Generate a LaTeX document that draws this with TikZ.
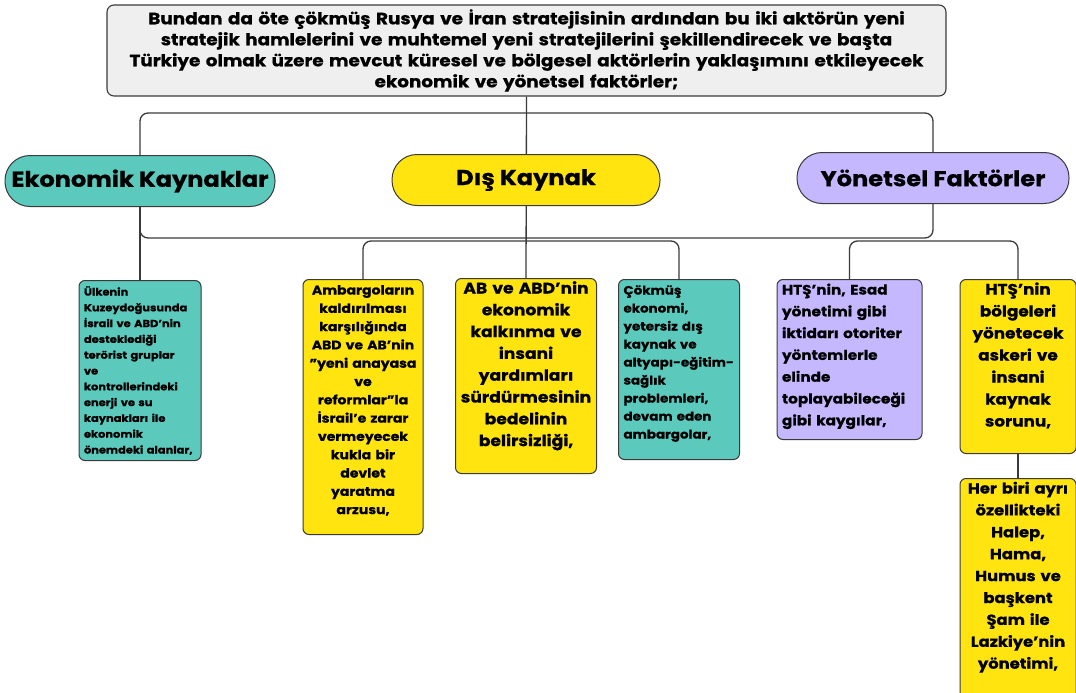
\documentclass[tikz,border=0pt]{standalone}
\usepackage{fontspec}
\setmainfont{Poppins}[FakeStretch=1.12, BoldFeatures={FakeBold=0.8}]
\usetikzlibrary{positioning,backgrounds}
\definecolor{ekoteal}{HTML}{5CC9BD}
\definecolor{disyellow}{HTML}{FFE40F}
\definecolor{yonlilac}{HTML}{C5B8FF}
\definecolor{topgrey}{HTML}{EFEFEF}
\definecolor{linegrey}{HTML}{3A3A3A}
\def\fs#1#2{\fontsize{#1}{#2}\selectfont\bfseries}

\begin{document}
\begin{tikzpicture}[x=1pt,y=-1pt,
    link/.style={draw=linegrey, line width=1.3pt, rounded corners=8pt},
    topbox/.style={draw=linegrey, line width=1.1pt, fill=topgrey, rounded corners=7pt,
        minimum width=839pt, minimum height=91pt, text width=825pt, align=center, font=\fs{16.4}{21}},
    pill/.style={draw=linegrey, line width=1pt, rounded corners=25pt, minimum height=51pt,
        font=\fs{21.5}{25}},
    leaf/.style={draw=linegrey, line width=1pt, rounded corners=6pt, anchor=north,
        inner xsep=5pt, inner ysep=6pt, text height=9pt}]
\useasboundingbox (0,0) rectangle (1076,693);
\clip (0,0) rectangle (1076,693);

\node[topbox] (ana) at (526.5,50.5) {Bundan da öte çökmüş Rusya ve İran stratejisinin ardından bu iki aktörün yeni\\
    stratejik hamlelerini ve muhtemel yeni stratejilerini şekillendirecek ve başta\\
    Türkiye olmak üzere mevcut küresel ve bölgesel aktörlerin yaklaşımını etkileyecek\\
    ekonomik ve yönetsel faktörler;};

\node[pill, fill=ekoteal, minimum width=270pt] (eko) at (140,181) {Ekonomik Kaynaklar};
\node[pill, fill=disyellow, minimum width=268pt] (dis) at (526,180) {Dış Kaynak};
\node[pill, fill=yonlilac, minimum width=272pt] (yon) at (933,178) {Yönetsel Faktörler};

\node[leaf, fill=ekoteal, text width=112pt, text depth=159pt, align=left, font=\fs{10.2}{15.8}]
    (ulke) at (140,280) {Ülkenin\\ Kuzeydoğusunda\\ İsrail ve ABD'nin\\ desteklediği\\ terörist gruplar\\ ve\\
    kontrollerindeki\\ enerji ve su\\ kaynakları ile\\ ekonomik\\ önemdeki alanlar,};
\node[leaf, fill=disyellow, text width=110pt, text depth=234pt, align=center, font=\fs{12.5}{18.3}]
    (amb) at (363,279) {Ambargoların\\ kaldırılması\\ karşılığında\\ ABD ve AB'nin\\ "yeni anayasa\\ ve\\
    reformlar"la\\ İsrail'e zarar\\ vermeyecek\\ kukla bir\\ devlet\\ yaratma\\ arzusu,};
\node[leaf, fill=disyellow, text width=131pt, text depth=174pt, align=center, font=\fs{15.3}{21.8}]
    (abd) at (526,278) {AB ve ABD'nin\\ ekonomik\\ kalkınma ve\\ insani\\ yardımları\\ sürdürmesinin\\ bedelinin\\ belirsizliği,};
\node[leaf, fill=ekoteal, text width=111pt, text depth=159pt, align=left, font=\fs{12}{18}]
    (cok) at (679,279) {Çökmüş\\ ekonomi,\\ yetersiz dış\\ kaynak ve\\ altyapı-eğitim-\\ sağlık\\ problemleri,\\ devam eden\\ ambargolar,};
\node[leaf, fill=yonlilac, text width=135pt, text depth=139pt, align=left, font=\fs{13.6}{21.8}]
    (hts) at (849.5,279) {HTŞ'nin, Esad\\ yönetimi gibi\\ iktidarı otoriter\\ yöntemlerle\\ elinde\\ toplayabileceği\\ gibi kaygılar,};
\node[leaf, fill=disyellow, text width=106pt, text depth=153pt, align=center, font=\fs{15}{22}]
    (bol) at (1018,279) {HTŞ'nin\\ bölgeleri\\ yönetecek\\ askeri ve\\ insani\\ kaynak\\ sorunu,};
\node[leaf, fill=disyellow, text width=106pt, text depth=230pt, align=center, font=\fs{14.6}{21.9}]
    (her) at (1018,478) {Her biri ayrı\\ özellikteki\\ Halep,\\ Hama,\\ Humus ve\\ başkent\\ Şam ile\\ Lazkiye'nin\\ yönetimi,};

\begin{scope}[on background layer]
    \coordinate (ust) at (526,113);
    \coordinate (alt) at (526,238);
    \coordinate (kol) at (526,241);
    \draw[link] (ana.south) -- (abd.north);
    \draw[link] (eko.center |- ust) rectangle (yon.center |- alt);
    \draw[link] (eko.center) -- (ulke.north);
    \draw[link] (amb.north) |- (cok.north |- kol) -- (cok.north);
    \draw[link] (hts.north) |- (bol.north |- kol) -- (bol.north);
    \draw[link] (bol.south) -- (her.north);
\end{scope}
\end{tikzpicture}
\end{document}
